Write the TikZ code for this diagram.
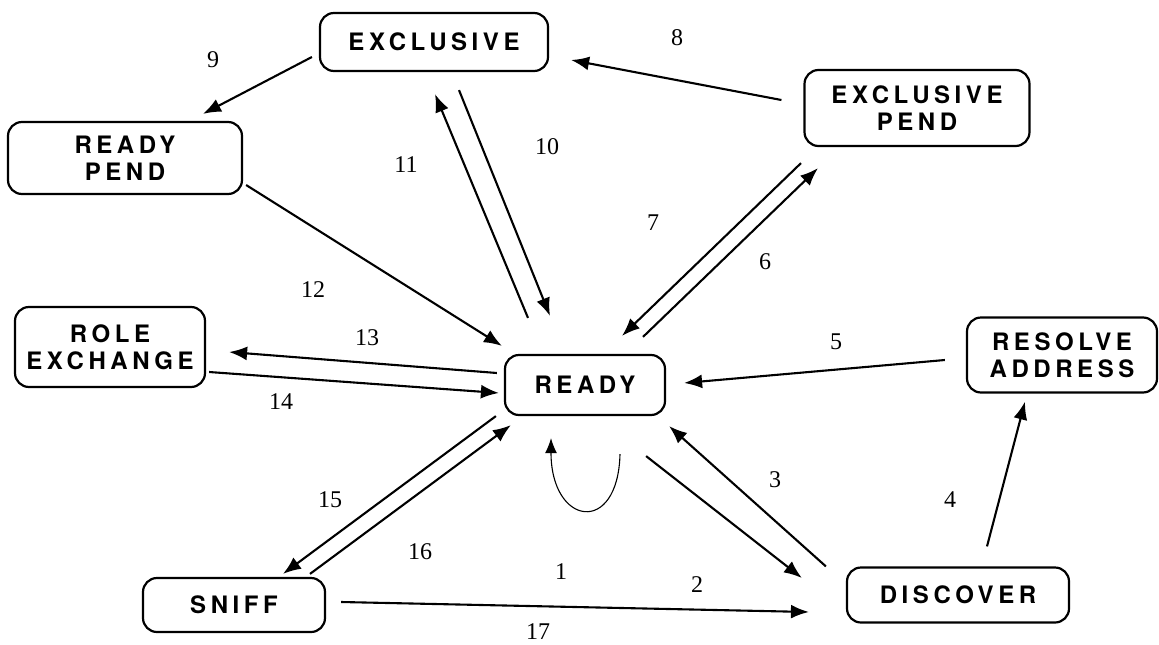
\documentclass[tikz,border=0pt]{standalone}
\usepackage{fontspec}
\setmainfont{Liberation Serif}
\newfontfamily\boxfont{TeX Gyre Heros}[LetterSpace=19]
\usetikzlibrary{arrows.meta}

\begin{document}
\begin{tikzpicture}[
		x=1pt, y=-1pt,
		state/.style={draw, line width=2.2pt, rounded corners=14pt, align=center, inner sep=0pt,
			font=\fontsize{24}{27}\selectfont\boxfont\bfseries},
		num/.style={font=\fontsize{24}{26}\selectfont},
		arr/.style={line width=2.1pt, -{Latex[length=18pt,width=14pt]}},
		loop/.style={line width=1.1pt, -{Latex[length=15pt,width=12pt]}}
	]
	\useasboundingbox (0,0) rectangle (1159,645);

	% Nodes
	\node[state, minimum width=228pt, minimum height=58pt] (excl) at (434,42) {EXCLUSIVE};
	\node[state, minimum width=225pt, minimum height=76pt] (xpend) at (917,108) {EXCLUSIVE\\PEND};
	\node[state, minimum width=234pt, minimum height=72pt] (rpend) at (125,158) {READY\\PEND};
	\node[state, minimum width=190pt, minimum height=80pt] (role) at (110,347) {ROLE\\EXCHANGE};
	\node[state, minimum width=160pt, minimum height=60pt] (ready) at (585,385) {READY};
	\node[state, minimum width=190pt, minimum height=75pt] (resolve) at (1062,355) {RESOLVE\\ADDRESS};
	\node[state, minimum width=182pt, minimum height=54pt] (sniff) at (234,605) {SNIFF};
	\node[state, minimum width=222pt, minimum height=55pt] (disc) at (958,595) {DISCOVER};

	% Connections
	\draw[arr] ([shift={(-7,15)}]excl.west) -- ([shift={(78,-7)}]rpend.north);
	\draw[arr] ([shift={(-22,-8)}]xpend.west) -- ([shift={(22,18)}]excl.east);
	\draw[arr] ([shift={(25,18)}]excl.south) -- ([shift={(-35,-38)}]ready.north);
	\draw[arr] ([shift={(-57,-36)}]ready.north) -- ([shift={(1,22)}]excl.south);
	\draw[arr] ([shift={(3,27)}]rpend.east) -- ([shift={(-2,-8)}]ready.north west);
	\draw[arr] ([shift={(-116,16)}]xpend.south) -- ([shift={(37,-18)}]ready.north);
	\draw[arr] ([shift={(58,-17)}]ready.north) -- ([shift={(-99,21)}]xpend.south);
	\draw[arr] ([shift={(-7,-12)}]ready.west) -- ([shift={(23,5)}]role.east);
	\draw[arr] ([shift={(3,25)}]role.east) -- ([shift={(-5,8)}]ready.west);
	\draw[arr] ([shift={(-21,5)}]resolve.west) -- ([shift={(18,-2)}]ready.east);
	\draw[arr] ([shift={(29,-20)}]disc.north) -- ([shift={(-37,8)}]resolve.south);
	\draw[arr] ([shift={(-20,0)}]disc.north west) -- ([shift={(3,10)}]ready.south east);
	\draw[arr] ([shift={(-20,40)}]ready.south east) -- ([shift={(-44,-17)}]disc.west);
	\draw[arr] ([shift={(-8,0)}]ready.south west) -- ([shift={(49,-3)}]sniff.north);
	\draw[arr] ([shift={(76,-3)}]sniff.north) -- ([shift={(7,9)}]ready.south west);
	\draw[arr] ([shift={(15,-3)}]sniff.east) -- ([shift={(-37,17)}]disc.west);
	\draw[loop] ([shift={(35,38)}]ready.south) .. controls ([shift={(33,120)}]ready.south) and ([shift={(-34,110)}]ready.south) .. ([shift={(-34,22)}]ready.south);

	% Labels
	\node[num] (l1) at (561,572) {1};
	\node[num] (l2) at (697,585) {2};
	\node[num] (l3) at (775,480) {3};
	\node[num] (l4) at (950,500) {4};
	\node[num] (l5) at (836,342) {5};
	\node[num] (l6) at (765,262) {6};
	\node[num] (l7) at (653,223) {7};
	\node[num] (l8) at (677,38) {8};
	\node[num] (l9) at (213,60) {9};
	\node[num] (l10) at (547,147) {10};
	\node[num] (l11) at (406,165) {11};
	\node[num] (l12) at (313,290) {12};
	\node[num] (l13) at (367,338) {13};
	\node[num] (l14) at (281,402) {14};
	\node[num] (l15) at (330,500) {15};
	\node[num] (l16) at (420,552) {16};
	\node[num] (l17) at (538,632) {17};
\end{tikzpicture}
\end{document}
